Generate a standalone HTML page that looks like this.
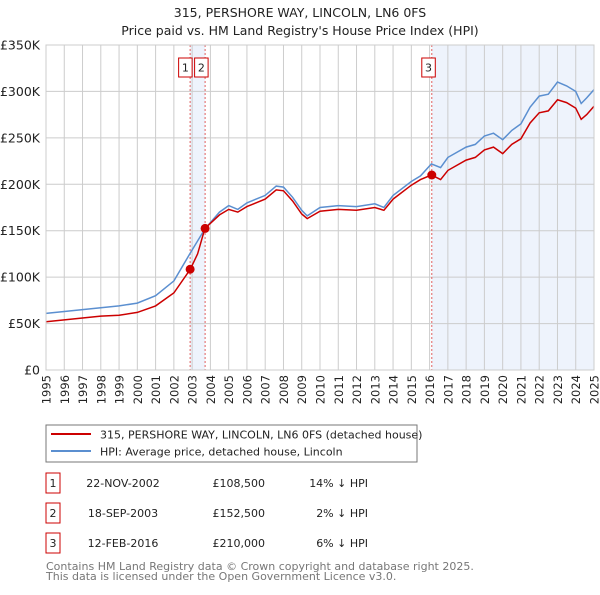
<!DOCTYPE html>
<html><head><meta charset="utf-8"><style>
body{margin:0;background:#fff;font-family:"Liberation Sans","DejaVu Sans",sans-serif;}
svg text{font-family:"DejaVu Sans","Liberation Sans",sans-serif;}
</style></head><body>
<svg id="c" width="600" height="590" xmlns="http://www.w3.org/2000/svg">
<text x="300" y="17" text-anchor="middle" font-size="12.5" fill="#222">315, PERSHORE WAY, LINCOLN, LN6 0FS</text>
<text x="300" y="35" text-anchor="middle" font-size="12.5" fill="#222">Price paid vs. HM Land Registry's House Price Index (HPI)</text>
<g id="plot"></g>
<rect x="46" y="425" width="371" height="37" fill="#fff" stroke="#777"/>
<line x1="51" y1="434" x2="91" y2="434" stroke="#cc0000" stroke-width="2"/>
<text x="100" y="438.5" font-size="11" fill="#222">315, PERSHORE WAY, LINCOLN, LN6 0FS (detached house)</text>
<line x1="51" y1="451" x2="91" y2="451" stroke="#5b8fd0" stroke-width="2"/>
<text x="100" y="455.5" font-size="11" fill="#222">HPI: Average price, detached house, Lincoln</text>
<g id="table" font-size="11" fill="#222"></g>
<text x="46" y="570" font-size="11" fill="#777">Contains HM Land Registry data © Crown copyright and database right 2025.</text>
<text x="46" y="580" font-size="11" fill="#777">This data is licensed under the Open Government Licence v3.0.</text>
</svg>
<script>
const hpiYears=[1995,1996,1997,1998,1999,2000,2001,2002,2002.9,2003.7,2004.5,2005,2005.5,2006,2007,2007.6,2008,2008.5,2009,2009.3,2010,2011,2012,2013,2013.5,2014,2015,2015.5,2016.1,2016.6,2017,2018,2018.5,2019,2019.5,2020,2020.5,2021,2021.5,2022,2022.5,2023,2023.5,2024,2024.3,2024.6,2025];
const hpiValues=[61,63,65,67,69,72,80,96,126,152,170,177,173,180,188,198,197,186,172,166,175,177,176,179,175,188,203,209,222,218,229,240,243,252,255,248,258,265,283,295,297,310,306,300,287,293,302];
const priceYears=[1995,1996,1997,1998,1999,2000,2001,2002,2002.9,2003.3,2003.7,2004.5,2005,2005.5,2006,2007,2007.6,2008,2008.5,2009,2009.3,2010,2011,2012,2013,2013.5,2014,2015,2015.5,2016.1,2016.6,2017,2018,2018.5,2019,2019.5,2020,2020.5,2021,2021.5,2022,2022.5,2023,2023.5,2024,2024.3,2024.6,2025];
const priceValues=[52,54,56,58,59,62,69,83,108.5,125,152.5,167,173,170,176,184,194,193,182,168,163,171,173,172,175,172,184,199,205,210,205,215,226,229,237,240,233,243,249,266,277,279,291,288,282,270,275,284];
const saleLabels=["1","2","3"];
const saleYears=[2002.89,2003.71,2016.12];
const saleValues=[108.5,152.5,210];
const saleDates=["22-NOV-2002","18-SEP-2003","12-FEB-2016"];
const salePrices=["£108,500","£152,500","£210,000"];
const saleDiffs=["14% ↓ HPI","2% ↓ HPI","6% ↓ HPI"];
const yTicks=[0,50,100,150,200,250,300,350];
const yTickLabels=["£0","£50K","£100K","£150K","£200K","£250K","£300K","£350K"];
const xTicks=[1995,1996,1997,1998,1999,2000,2001,2002,2003,2004,2005,2006,2007,2008,2009,2010,2011,2012,2013,2014,2015,2016,2017,2018,2019,2020,2021,2022,2023,2024,2025];

const X0=46,X1=594,Y0=370,Y1=45;
const x=v=>X0+(v-1995)/30*(X1-X0);
const y=v=>Y0-v/350*(Y0-Y1);
const NS="http://www.w3.org/2000/svg";
const plot=document.getElementById('plot');
function mk(tag,attrs,parent){const e=document.createElementNS(NS,tag);for(const k in attrs)e.setAttribute(k,attrs[k]);(parent||plot).appendChild(e);return e;}

let r=mk('rect',{x:x(saleYears[0]),y:Y1,width:x(saleYears[1])-x(saleYears[0]),height:Y0-Y1,fill:'#eef3fc'});


r=mk('rect',{x:x(saleYears[2]),y:Y1,width:X1-x(saleYears[2]),height:Y0-Y1,fill:'#eef3fc'});



xTicks.forEach(t=>{
  const l=mk('line',{x1:x(t),x2:x(t),y1:Y1,y2:Y0,stroke:'#ccc','stroke-width':1});
  
  
  const tx=mk('text',{x:0,y:0,transform:`translate(${x(t)+4.5},${Y0+5}) rotate(-90)`,'text-anchor':'end','font-size':'11.5',fill:'#222'});
  tx.textContent=t;
  
  
});
yTicks.forEach((t,i)=>{
  const l=mk('line',{x1:X0,x2:X1,y1:y(t),y2:y(t),stroke:'#ccc','stroke-width':1});
  
  
  const tx=mk('text',{x:X0-6,y:y(t)+4.5,'text-anchor':'end','font-size':'12.5',fill:'#222'});
  tx.textContent=yTickLabels[i];
  
  
});

saleYears.forEach((s,i)=>{
  const l=mk('line',{x1:x(s),x2:x(s),y1:Y1,y2:Y0,stroke:'#e06060','stroke-width':1,'stroke-dasharray':'2,2'});
  
  
});

let pts=hpiYears.map((d,i)=>x(d).toFixed(1)+','+y(hpiValues[i]).toFixed(1)).join(' ');
let pl=mk('polyline',{points:pts,fill:'none',stroke:'#5b8fd0','stroke-width':1.5});


pts=priceYears.map((d,i)=>x(d).toFixed(1)+','+y(priceValues[i]).toFixed(1)).join(' ');
pl=mk('polyline',{points:pts,fill:'none',stroke:'#cc0000','stroke-width':1.5});



const badgeShift=[-11.5,-10.5,-10];
saleYears.forEach((s,i)=>{
  const c=mk('circle',{cx:x(s),cy:y(saleValues[i]),r:4.5,fill:'#cc0000'});
  
  
  const bx=x(s)+badgeShift[i];
  const b=mk('rect',{x:bx,y:58,width:13.5,height:19,fill:'#fff',stroke:'#cc0000'});
  
  
  const t=mk('text',{x:bx+6.75,y:71.5,'text-anchor':'middle','font-size':'11',fill:'#222'});
  t.textContent=saleLabels[i];
  
  
});
let ax=mk('rect',{x:X0,y:Y1,width:X1-X0,height:Y0-Y1,fill:'none',stroke:'#ccc'});



const tb=document.getElementById('table');
saleLabels.forEach((s,i)=>{
  const yy=483+i*30;
  const b=mk('rect',{x:46,y:yy-10,width:14,height:20,fill:'#fff',stroke:'#cc0000'},tb);
  
  
  const cells=[[53,s,'middle'],[123,saleDates[i],'middle'],[265,salePrices[i],'end'],[368,saleDiffs[i],'end']];
  const names=['table-index-','table-date-','table-price-','table-diff-'];
  cells.forEach((c,j)=>{
    const t=mk('text',{x:c[0],y:yy+4,'text-anchor':c[2]},tb);
    t.textContent=c[1];
    
    
  });
});
</script>
</body></html>
